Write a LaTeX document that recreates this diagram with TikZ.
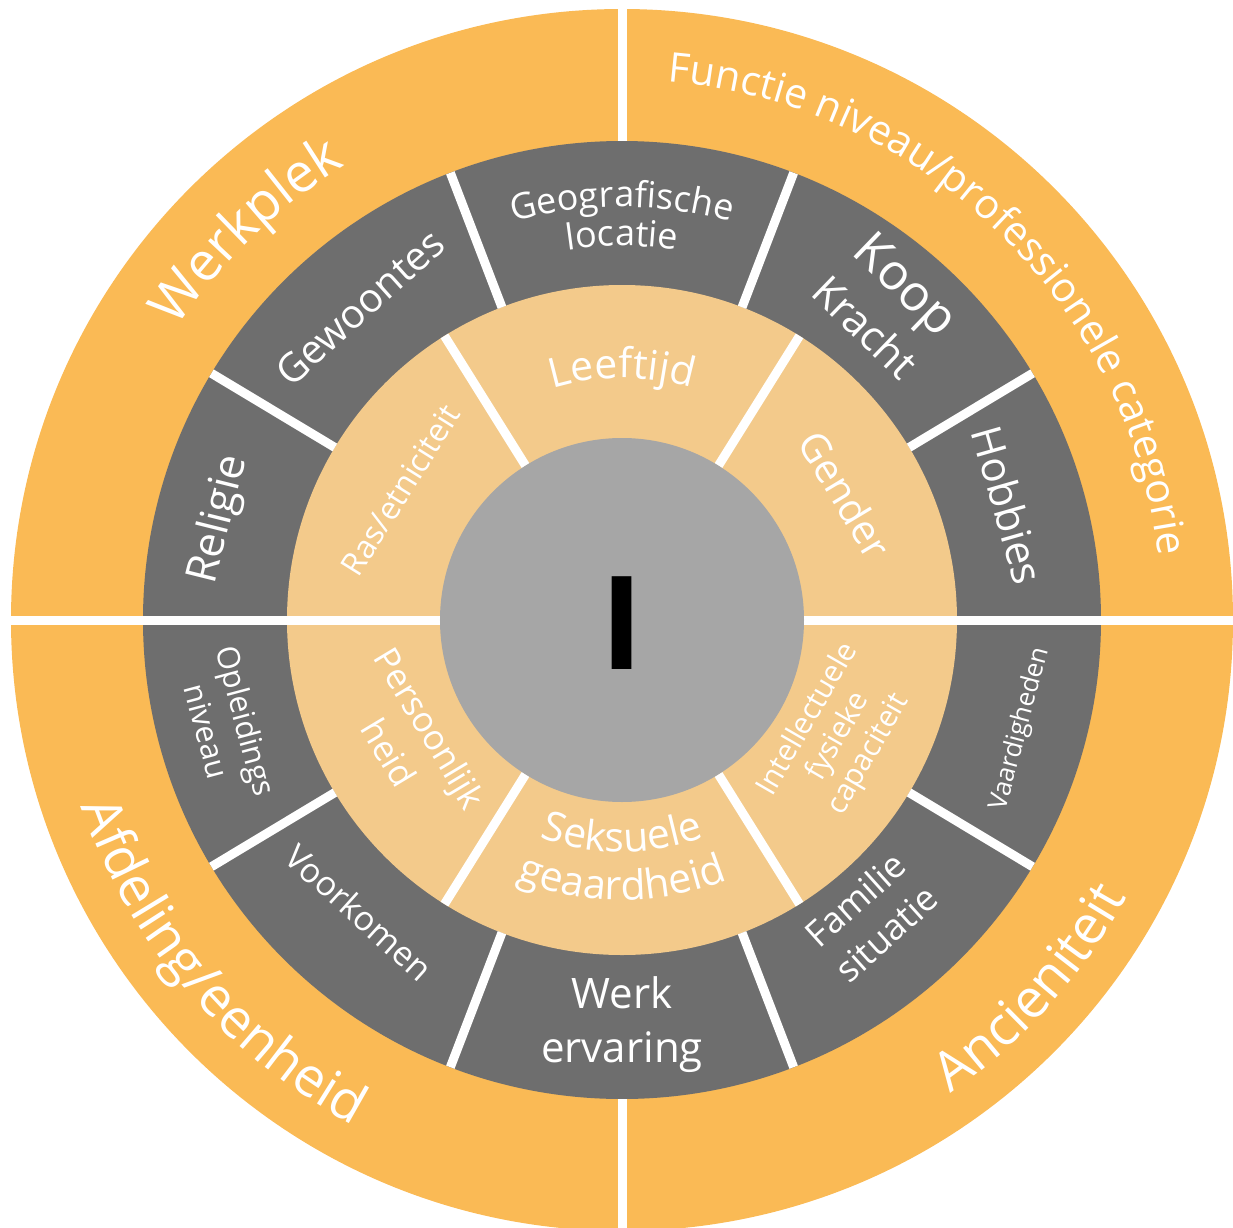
\documentclass[tikz,border=0pt]{standalone}
\usepackage{fontspec}
\setmainfont{Open Sans}
\usetikzlibrary{decorations.text}

\definecolor{ringouter}{RGB}{250,186,85}
\definecolor{ringmid}{RGB}{110,110,110}
\definecolor{ringinner}{RGB}{243,202,139}
\definecolor{hub}{RGB}{166,166,166}

\newcommand{\wfont}[2]{\fontsize{#1}{#2}\selectfont}
\newcommand{\rimfont}{\fontsize{54}{60}\selectfont}
\newcommand{\functiefont}{\fontsize{41}{48}\selectfont}
\newcommand{\geofont}{\fontsize{36}{40}\selectfont}
\newcommand{\innerfont}{\fontsize{41}{48}\selectfont}

\begin{document}
\begin{tikzpicture}[x=1pt, y=1pt,
    divider/.style={white, line width=9pt},
    lbl/.style={text=white, align=center, inner sep=0pt}]
    \useasboundingbox (-622,-607) rectangle (611,620);
    \clip (-622,-607) rectangle (611,620);

    % Rings
    \fill[ringouter] (0,0) circle[radius=611pt];
    \fill[ringmid] (0,0) circle[radius=479pt];
    \fill[ringinner] (0,0) circle[radius=335pt];

    % White dividers
    \draw[divider] (90:479) -- (90:640);
    \draw[divider] (270:479) -- (270:640);
    \draw[divider] (180:182) -- (180:640);
    \draw[divider] (0:182) -- (0:640);
    \foreach \a in {31,69,111,149,-31,-69,-111,-149}
        \draw[divider] (\a:335) -- (\a:479);
    \foreach \a in {58,122,-58,-122}
        \draw[divider] (\a:182) -- (\a:335);

    % Hub
    \fill[hub] (0,0) circle[radius=182pt];
    \node[inner sep=0pt, text=black, font=\bfseries\wfont{130}{130}] (ik) at (0.5,-3) {I};

    % Outer ring labels along the rim
    \path[decorate, decoration={text along path, text align=center, text color=white,
        text={|\rimfont|Werkplek}}] (174:532pt) arc[start angle=174, end angle=94, radius=532pt];
    \path[decorate, decoration={text along path, text align=center, text color=white,
        text={|\functiefont|Functie niveau/professionele categorie}}] (91:540pt) arc[start angle=91, end angle=1, radius=540pt];
    \path[decorate, decoration={text along path, text align=center, text color=white,
        text={|\rimfont|Afdeling/eenheid}}] (180:572pt) arc[start angle=180, end angle=261, radius=572pt];
    \path[decorate, decoration={text along path, text align=center, text color=white,
        text={|\rimfont|Ancieniteit}}] (-80:576pt) arc[start angle=-80, end angle=-4, radius=576pt];

    % Middle ring, upper half
    \node[lbl, font=\wfont{43}{50}, rotate=76] (religie) at (166:415) {Religie};
    \node[lbl, font=\wfont{40}{48}, rotate=42] (gewoontes) at (130:408) {Gewoontes};
    \path[decorate, decoration={text along path, text align=center, text color=white,
        text={|\geofont|Geografische}}] (125:413pt) arc[start angle=125, end angle=55, radius=413pt];
    \path[decorate, decoration={text along path, text align=center, text color=white,
        text={|\geofont|locatie}}] (125:374pt) arc[start angle=125, end angle=55, radius=374pt];
    \node[lbl, font=\wfont{42}{58}, rotate=-44] (koop) at (50:412) {{\wfont{50}{58}Koop}\\Kracht};
    \node[lbl, font=\wfont{42}{50}, rotate=-74] (hobbies) at (16.6:403) {Hobbies};

    % Middle ring, lower half
    \node[lbl, font=\wfont{31}{40}, rotate=-75] (opleiding) at (195:409) {Opleidings\\niveau};
    \node[lbl, font=\wfont{34}{40}, rotate=-42] (voorkomen) at (228:393) {Voorkomen};
    \node[lbl, font=\wfont{42}{54}] (werk) at (270:405) {Werk\\ervaring};
    \node[lbl, font=\wfont{36}{46}, rotate=42] (familie) at (-50:387) {Familie\\situatie};
    \node[lbl, font=\wfont{26}{32}, rotate=75] (vaardig) at (-15.3:413) {Vaardigheden};

    % Inner ring
    \node[lbl, font=\wfont{32}{40}, rotate=58] (ras) at (149.6:257) {Ras/etniciteit};
    \path[decorate, decoration={text along path, text align=center, text color=white,
        text={|\innerfont|Leeftijd}}] (130:242pt) arc[start angle=130, end angle=50, radius=242pt];
    \node[lbl, font=\wfont{40}{48}, rotate=-59] (gender) at (29.3:256) {Gender};
    \node[lbl, font=\wfont{35}{48}, rotate=-59] (persoon) at (209.5:244) {Persoonlijk\\heid};
    \path[decorate, decoration={text along path, text align=center, text color=white,
        text={|\innerfont|Seksuele}}] (225:232pt) arc[start angle=225, end angle=315, radius=232pt];
    \path[decorate, decoration={text along path, text align=center, text color=white,
        text={|\innerfont|geaardheid}}] (225:280pt) arc[start angle=225, end angle=315, radius=280pt];
    \node[lbl, font=\wfont{30}{35}, rotate=60] (intellect) at (-28.4:246) {Intellectuele\\fysieke\\capaciteit};
\end{tikzpicture}
\end{document}
